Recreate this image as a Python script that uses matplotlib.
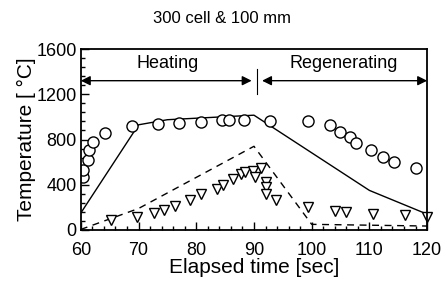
import matplotlib.pyplot as plt
from matplotlib.ticker import MultipleLocator, AutoMinorLocator

plt.rcParams['font.family'] = ['Liberation Sans', 'DejaVu Sans']

# measured (circles) and calculated (lines) temperatures
circle_t = [60.3, 60.4, 61.3, 61.4, 62.1, 64.2, 68.8, 73.3, 77.0, 80.9, 84.4, 85.7,
            88.2, 92.8, 99.4, 103.2, 104.9, 106.6, 107.6, 110.2, 112.4, 114.2, 118.0]
circle_T = [471, 530, 619, 707, 781, 855, 919, 937, 948, 957, 972, 972,
            972, 966, 966, 928, 869, 825, 772, 707, 648, 604, 545]

tri_t = [65.2, 69.8, 72.6, 74.4, 76.3, 79.0, 80.9, 83.6, 84.6, 86.4, 87.7, 88.4,
         89.9, 90.1, 91.2, 92.1, 92.1, 92.1, 93.9, 99.4, 104.0, 105.9, 110.6, 116.2, 119.9]
tri_T = [88, 118, 153, 174, 215, 265, 318, 364, 398, 451, 495, 515,
         518, 471, 545, 427, 377, 321, 262, 206, 171, 162, 141, 133, 118]

solid_t = [60, 70, 75, 90, 110, 120]
solid_T = [150, 930, 975, 1015, 350, 140]

dash_t = [60, 70, 90, 100, 120]
dash_T = [5, 190, 740, 50, 35]

fig = plt.figure(figsize=(4.44, 2.85), dpi=100)
ax = fig.add_axes([0.182, 0.193, 0.78, 0.635])

ax.plot(solid_t, solid_T, color='black', lw=1.0)
ax.plot(dash_t, dash_T, color='black', lw=1.0, dashes=(5, 4))
ax.plot(circle_t, circle_T, 'o', ms=8, mfc='white', mec='black', mew=1.0)
ax.plot(tri_t, tri_T, 'v', ms=6.5, mfc='white', mec='black', mew=1.0, clip_on=False)

# phase arrows
arrow = dict(arrowstyle='<|-|>', color='black', lw=1.0, mutation_scale=14,
             shrinkA=0, shrinkB=0)
ax.annotate('', xy=(60, 1320), xytext=(89.6, 1320), arrowprops=arrow)
ax.annotate('', xy=(91.4, 1320), xytext=(120, 1320), arrowprops=arrow)
ax.plot([90.5, 90.5], [1200, 1420], color='black', lw=0.8)
ax.text(75, 1470, 'Heating', ha='center', va='center', fontsize=13)
ax.text(105.5, 1470, 'Regenerating', ha='center', va='center', fontsize=13)

ax.set_xlim(60, 120)
ax.set_ylim(0, 1600)
ax.xaxis.set_major_locator(MultipleLocator(10))
ax.yaxis.set_major_locator(MultipleLocator(400))
ax.xaxis.set_minor_locator(AutoMinorLocator(5))
ax.yaxis.set_minor_locator(AutoMinorLocator(5))
ax.tick_params(which='both', direction='in', top=False, right=False,
               labelsize=13, width=1.0)
ax.tick_params(which='major', length=6)
ax.tick_params(axis='x', which='major', pad=9)
ax.tick_params(axis='y', which='major', pad=3)
ax.tick_params(which='minor', length=3)
for s in ax.spines.values():
    s.set_linewidth(1.3)

ax.set_xlabel('Elapsed time [sec]', fontsize=15, labelpad=-1)
ax.set_ylabel('Temperature [ °C]', fontsize=15, labelpad=0)
fig.text(0.5, 0.935, '300 cell & 100 mm', ha='center', va='center', fontsize=12)

fig.savefig('out.png', dpi=100)
